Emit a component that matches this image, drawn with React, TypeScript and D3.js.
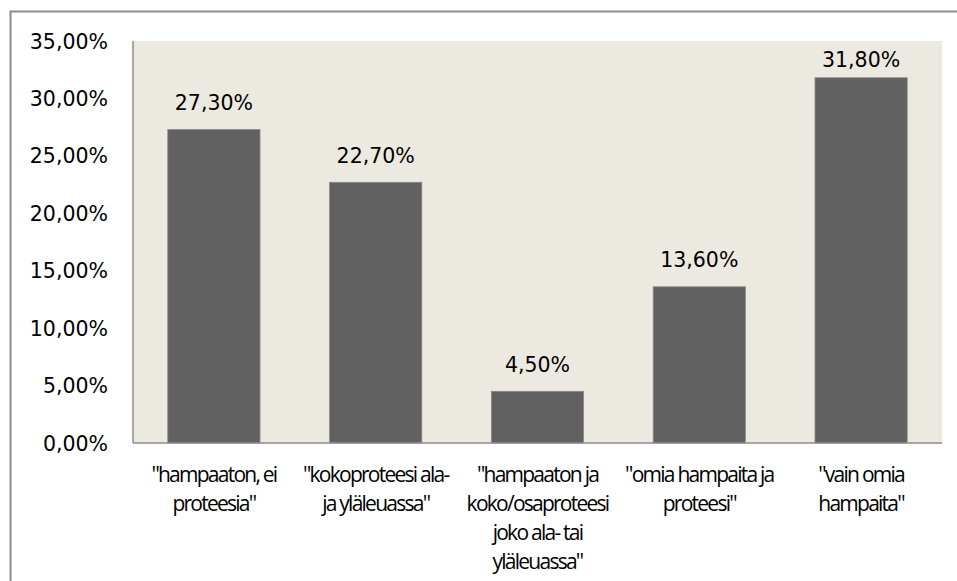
import React from "react";
import * as d3 from "d3";

// Share of respondents by dental status
const categories: string[][] = [
  ['"hampaaton, ei', 'proteesia"'],
  ['"kokoproteesi ala-', 'ja yläleuassa"'],
  ['"hampaaton ja', "koko/osaproteesi", "joko ala- tai", 'yläleuassa"'],
  ['"omia hampaita ja', 'proteesi"'],
  ['"vain omia', 'hampaita"'],
];
const values: number[] = [27.3, 22.7, 4.5, 13.6, 31.8];
const yTicks: number[] = [0, 5, 10, 15, 20, 25, 30, 35];

const W = 957;
const H = 581;
const plot = { left: 133, right: 942, top: 41, bottom: 443 };

const fmt = (v: number) => v.toFixed(2).replace(".", ",") + "%";

export default function App() {
  const keys = categories.map((_, i) => String(i));
  const x = d3
    .scaleBand<string>()
    .domain(keys)
    .range([plot.left, plot.right])
    .paddingInner(0.43)
    .paddingOuter(0.215);
  const y = d3.scaleLinear().domain([0, 35]).range([plot.bottom, plot.top]);

  const numFont = "'DejaVu Sans', Verdana, sans-serif";
  const catFont = "'Open Sans', 'DejaVu Sans Condensed', sans-serif";

  return (
    <svg
      width={W}
      height={H}
      style={{ position: "absolute", left: 0, top: 0, background: "#ffffff" }}
    >
      {/* outer chart frame (clipped at right and bottom) */}
      <path d={`M10.5,${H} V11.5 H${W}`} fill="none" stroke="#8c8c8c" strokeWidth={2} />

      {/* plot background */}
      <rect
        x={plot.left}
        y={plot.top}
        width={plot.right - plot.left}
        height={plot.bottom - plot.top}
        fill="#ECE9E0"
      />

      {/* bars */}
      {values.map((v, i) => (
        <rect
          key={i}
          x={x(String(i))!}
          y={y(v)}
          width={x.bandwidth()}
          height={y(0) - y(v)}
          fill="#616161"
          stroke="#8a8a8a"
          strokeWidth={0.8}
        />
      ))}

      {/* value labels, kept inside the plot area */}
      {values.map((v, i) => (
        <text
          key={i}
          x={x(String(i))! + x.bandwidth() / 2}
          y={Math.max(y(v) - 19.5, plot.top + 26)}
          textAnchor="middle"
          fontFamily={numFont}
          fontSize={20.5}
          fill="#000"
        >
          {fmt(v)}
        </text>
      ))}

      {/* axes lines */}
      <line x1={plot.left} x2={plot.left} y1={plot.top} y2={plot.bottom} stroke="#8c8c8c" strokeWidth={1.5} />
      <line x1={plot.left} x2={plot.right} y1={plot.bottom} y2={plot.bottom} stroke="#8c8c8c" strokeWidth={1.5} />

      {/* y tick labels */}
      {yTicks.map((t) => (
        <text
          key={t}
          x={108}
          y={y(t) + 7.5}
          textAnchor="end"
          fontFamily={numFont}
          fontSize={20.5}
          fill="#000"
        >
          {fmt(t)}
        </text>
      ))}

      {/* category labels */}
      {categories.map((lines, i) => (
        <text
          key={i}
          textAnchor="middle"
          fontFamily={catFont}
          fontSize={21}
          letterSpacing={-1.75}
          fill="#000"
        >
          {lines.map((l, j) => (
            <tspan key={j} x={x(String(i))! + x.bandwidth() / 2} y={482 + j * 29}>
              {l}
            </tspan>
          ))}
        </text>
      ))}
    </svg>
  );
}
